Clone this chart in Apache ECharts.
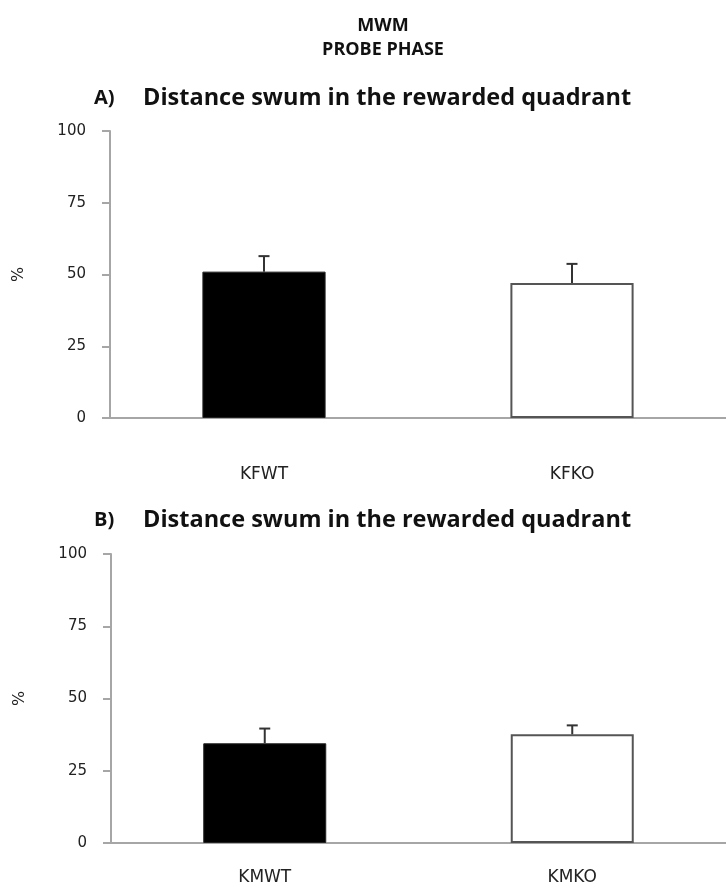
<!DOCTYPE html>
<html>
<head>
<meta charset="utf-8">
<script src="https://cdn.jsdelivr.net/npm/echarts@6/dist/echarts.min.js"></script>
<style>
  html, body { margin: 0; padding: 0; background: #fff; }
  #chart { width: 726px; height: 889px; }
</style>
</head>
<body>
<div id="chart"></div>
<script>
// Panel A: females
const categoriesA = ['KFWT', 'KFKO'];
const meansA = [51, 47];
const semA = [5.4, 6.7];

// Panel B: males
const categoriesB = ['KMWT', 'KMKO'];
const meansB = [34.5, 37.6];
const semB = [5.1, 3.1];

// Shared percent axis
const yMin = 0;
const yMax = 100;
const yStep = 25;

const barFills = ['#000000', '#ffffff'];
const axisGray = '#a6a6a6';
const labelFont = 'DejaVu Sans';

function barData(means) {
  return means.map((v, i) => ({
    value: v,
    itemStyle: {
      color: barFills[i],
      borderColor: i === 0 ? '#222' : '#555',
      borderWidth: i === 0 ? 1 : 2
    }
  }));
}

function errData(means, sems) {
  return means.map((v, i) => [i, v, sems[i]]);
}

// Upward-only error bar with a short cap
function renderErr(params, api) {
  const i = api.value(0);
  const m = api.value(1);
  const e = api.value(2);
  const base = api.coord([i, m]);
  const top = api.coord([i, m + e]);
  const half = 5.5;
  const style = { stroke: '#333', lineWidth: 2 };
  return {
    type: 'group',
    children: [
      { type: 'line', shape: { x1: base[0], y1: base[1], x2: top[0], y2: top[1] }, style },
      { type: 'line', shape: { x1: top[0] - half, y1: top[1], x2: top[0] + half, y2: top[1] }, style }
    ]
  };
}

function xAxisFor(cats, gridIndex, margin) {
  return {
    type: 'category',
    gridIndex,
    data: cats,
    axisLine: { show: true, lineStyle: { color: axisGray, width: 2 } },
    axisTick: { show: false },
    axisLabel: { color: '#222', fontFamily: labelFont, fontSize: 17, margin }
  };
}

function yAxisFor(gridIndex) {
  return {
    type: 'value',
    gridIndex,
    min: yMin,
    max: yMax,
    interval: yStep,
    name: '%',
    nameLocation: 'middle',
    nameGap: 83,
    nameRotate: 90,
    nameTextStyle: { color: '#222', fontFamily: labelFont, fontSize: 16 },
    splitLine: { show: false },
    axisLine: { show: true, lineStyle: { color: axisGray, width: 2 } },
    axisTick: { show: true, length: 8, lineStyle: { color: axisGray, width: 2 } },
    axisLabel: { color: '#222', fontFamily: labelFont, fontSize: 15, margin: 24 }
  };
}

function headText(x, y, text, size) {
  return {
    type: 'text', x, y,
    style: {
      text, textAlign: x > 300 ? 'center' : 'left', textVerticalAlign: 'middle',
      font: 'bold ' + size + 'px "Open Sans"', fill: '#111'
    }
  };
}

const chart = echarts.init(document.getElementById('chart'), null, { renderer: 'canvas' });

chart.setOption({
  backgroundColor: '#ffffff',
  animation: false,
  graphic: [
    headText(383, 26, 'MWM', 18),
    headText(383, 50, 'PROBE PHASE', 18),
    headText(94, 98, 'A)', 20),
    headText(143, 98, 'Distance swum in the rewarded quadrant', 23.5),
    headText(94, 520, 'B)', 20),
    headText(143, 520, 'Distance swum in the rewarded quadrant', 23.5)
  ],
  grid: [
    { left: 110, top: 131, width: 624, height: 287 },
    { left: 111, top: 554, width: 624, height: 289 }
  ],
  xAxis: [xAxisFor(categoriesA, 0, 48), xAxisFor(categoriesB, 1, 26)],
  yAxis: [yAxisFor(0), yAxisFor(1)],
  series: [
    {
      type: 'bar', xAxisIndex: 0, yAxisIndex: 0,
      barWidth: '40%',
      data: barData(meansA)
    },
    {
      type: 'custom', xAxisIndex: 0, yAxisIndex: 0,
      renderItem: renderErr,
      data: errData(meansA, semA),
      z: 5
    },
    {
      type: 'bar', xAxisIndex: 1, yAxisIndex: 1,
      barWidth: '40%',
      data: barData(meansB)
    },
    {
      type: 'custom', xAxisIndex: 1, yAxisIndex: 1,
      renderItem: renderErr,
      data: errData(meansB, semB),
      z: 5
    }
  ]
});
</script>
</body>
</html>
